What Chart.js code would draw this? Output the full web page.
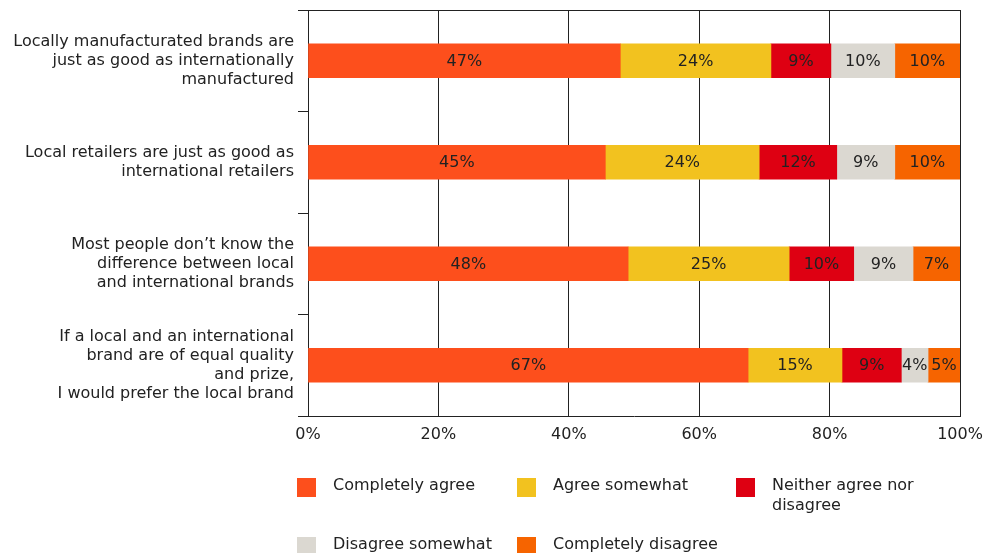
<!DOCTYPE html>
<html>
<head>
<meta charset="utf-8">
<script src="https://cdn.jsdelivr.net/npm/chart.js@4/dist/chart.umd.min.js"></script>
<style>
    body { margin: 0; background: #fff; }
    #wrap { position: relative; width: 996px; height: 553px; overflow: hidden; font-family: "DejaVu Sans", Verdana, sans-serif; }
    #chart { position: absolute; left: 0; top: 0; }
    .legend-item { position: absolute; font-size: 16px; line-height: 20px; color: #222; }
    .legend-item .swatch { position: absolute; left: 0; top: 3px; width: 19px; height: 19px; }
    .legend-item .text { position: absolute; left: 36px; top: 0; width: 170px; }
</style>
</head>
<body>
<div id="wrap">
    <canvas id="chart" width="996" height="553"></canvas>
    <div id="legend"></div>
</div>
<script>
// categories (statements)
const statements = [
    ['Locally manufacturated brands are', 'just as good as internationally', 'manufactured'],
    ['Local retailers are just as good as', 'international retailers'],
    ['Most people don\u2019t know the', 'difference between local', 'and international brands'],
    ['If a local and an international', 'brand are of equal quality', 'and prize,', 'I would prefer the local brand']
];

// series values (% of respondents)
const completelyAgree    = [47.9, 45.6, 49.1, 67.5];
const agreeSomewhat      = [23.1, 23.6, 24.7, 14.4];
const neitherAgree       = [9.2, 11.9, 9.9, 9.1];
const disagreeSomewhat   = [9.8, 8.9, 9.1, 4.1];
const completelyDisagree = [10.0, 10.0, 7.2, 4.9];

// printed labels on the bars
const completelyAgreeLabels    = ['47%', '45%', '48%', '67%'];
const agreeSomewhatLabels      = ['24%', '24%', '25%', '15%'];
const neitherAgreeLabels       = ['9%', '12%', '10%', '9%'];
const disagreeSomewhatLabels   = ['10%', '9%', '9%', '4%'];
const completelyDisagreeLabels = ['10%', '10%', '7%', '5%'];

const seriesNames = ['Completely agree', 'Agree somewhat', 'Neither agree nor disagree', 'Disagree somewhat', 'Completely disagree'];
const seriesColors = ['#FD4F1C', '#F2C21F', '#DE0012', '#DBD8D1', '#F66400'];

const xTicks = [0, 20, 40, 60, 80, 100];

const seriesData = [completelyAgree, agreeSomewhat, neitherAgree, disagreeSomewhat, completelyDisagree];
const seriesLabels = [completelyAgreeLabels, agreeSomewhatLabels, neitherAgreeLabels, disagreeSomewhatLabels, completelyDisagreeLabels];

const FONT = '"DejaVu Sans", Verdana, sans-serif';
const LINE = '#222';

// text in the middle of each bar segment
const barLabels = {
    id: 'barLabels',
    afterDatasetsDraw(chart) {
        const ctx = chart.ctx;
        ctx.save();
        ctx.font = '16px ' + FONT;
        ctx.fillStyle = '#222';
        ctx.textAlign = 'center';
        ctx.textBaseline = 'middle';
        chart.data.datasets.forEach((ds, i) => {
            chart.getDatasetMeta(i).data.forEach((bar, j) => {
                const p = bar.getProps(['x', 'y', 'base'], true);
                ctx.fillText(seriesLabels[i][j], (p.x + p.base) / 2, p.y + 1);
            });
        });
        ctx.restore();
    }
};

// frame line along the top of the plot
const topLine = {
    id: 'topLine',
    afterDraw(chart) {
        const { ctx, chartArea } = chart;
        const y = Math.round(chartArea.top) + 0.5;
        ctx.save();
        ctx.strokeStyle = LINE;
        ctx.lineWidth = 1;
        ctx.beginPath();
        ctx.moveTo(chartArea.left, y);
        ctx.lineTo(chartArea.right, y);
        ctx.stroke();
        ctx.restore();
    }
};

new Chart(document.getElementById('chart'), {
    type: 'bar',
    data: {
        labels: statements,
        datasets: seriesNames.map((name, i) => ({
            label: name,
            data: seriesData[i],
            backgroundColor: seriesColors[i],
            borderWidth: 0,
            barThickness: 34
        }))
    },
    options: {
        indexAxis: 'y',
        responsive: false,
        animation: false,
        layout: { padding: { top: 10, right: 36, bottom: 0, left: 0 } },
        plugins: {
            legend: { display: false },
            tooltip: { enabled: false }
        },
        scales: {
            x: {
                stacked: true,
                min: 0,
                max: 100,
                afterBuildTicks(scale) {
                    scale.ticks = xTicks.map(v => ({ value: v }));
                },
                afterFit(scale) { scale.height = 137; },
                grid: { color: LINE, lineWidth: 1, drawTicks: false },
                border: { color: LINE, width: 1 },
                ticks: {
                    padding: 9,
                    color: '#222',
                    font: { family: FONT, size: 16 },
                    callback: v => v + '%'
                }
            },
            y: {
                stacked: true,
                afterFit(scale) {
                    scale.width = 308;
                    scale.paddingTop = 0;
                    scale.paddingBottom = 0;
                },
                grid: { color: LINE, lineWidth: 1, drawOnChartArea: false, tickLength: 10 },
                border: { color: LINE, width: 1 },
                ticks: {
                    padding: 4,
                    color: '#222',
                    font: { family: FONT, size: 16, lineHeight: 1.2 }
                }
            }
        }
    },
    plugins: [barLabels, topLine]
});

// legend laid out in a grid below the chart
const legendPos = [[297, 475], [517, 475], [736, 475], [297, 534], [517, 534]];
const legend = document.getElementById('legend');
seriesNames.forEach((name, i) => {
    const item = document.createElement('div');
    item.className = 'legend-item';
    item.style.left = legendPos[i][0] + 'px';
    item.style.top = legendPos[i][1] + 'px';
    item.innerHTML = '<div class="swatch" style="background:' + seriesColors[i] + '"></div><div class="text">' + name + '</div>';
    legend.appendChild(item);
});
</script>
</body>
</html>
